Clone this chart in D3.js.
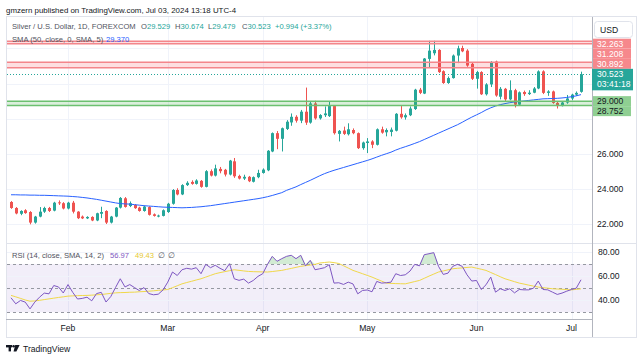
<!DOCTYPE html>
<html>
<head>
<meta charset="utf-8">
<script src="https://cdn.jsdelivr.net/npm/d3@7"></script>
<style>
    body { margin: 0; background: #fff; }
    svg { display: block; font-family: "Liberation Sans", Arial, sans-serif; }
</style>
</head>
<body>
<div class="chart"></div>
<script>
/*-------------------------------data-------------------------------*/

const holidays = ["2024-03-29"];

const opens = [
    23.27, 22.93, 22.60, 22.80, 22.70, 22.10, 22.44, 22.72, 22.93, 22.78,
    23.25, 23.20, 22.90, 23.23, 22.72, 22.44, 22.34, 22.42, 22.22, 22.60,
    22.76, 22.10, 22.44, 22.95, 23.48, 23.04, 23.10, 22.95, 22.76, 22.98,
    22.57, 22.44, 22.48, 22.70, 23.17, 23.95, 23.70, 24.23, 24.41, 24.30,
    24.47, 24.13, 25.02, 24.77, 25.15, 25.10, 24.83, 25.58, 24.75, 24.60,
    24.70, 24.42, 24.68, 24.92, 25.07, 26.14, 27.18, 26.86, 27.42, 27.79,
    28.11, 27.89, 28.40, 27.78, 28.87, 28.02, 28.20, 28.15, 28.72, 27.14,
    27.33, 27.12, 27.36, 27.18, 26.33, 26.62, 26.71, 26.52, 27.40, 27.23,
    27.25, 27.32, 28.28, 28.08, 28.20, 28.55, 29.65, 29.43, 31.40, 31.72,
    31.91, 30.70, 30.03, 30.31, 31.59, 32.02, 31.87, 31.12, 30.27, 30.65,
    29.39, 29.95, 31.25, 29.25, 29.70, 29.10, 29.62, 28.80, 29.52, 29.40,
    29.48, 29.72, 30.69, 29.47, 29.55, 28.90, 28.72, 28.92, 29.15, 29.37,
    29.529
];
const highs = [
    23.32, 22.98, 22.80, 22.86, 22.75, 22.48, 22.98, 23.00, 22.99, 23.28,
    23.36, 23.26, 23.28, 23.33, 22.75, 22.50, 22.46, 22.46, 22.66, 23.00,
    22.80, 22.48, 22.98, 23.55, 23.55, 23.30, 23.15, 23.00, 23.05, 23.02,
    22.62, 22.55, 22.85, 23.22, 24.00, 24.05, 24.28, 24.45, 24.50, 24.56,
    24.52, 25.08, 25.12, 25.39, 25.26, 25.15, 25.66, 25.77, 24.82, 24.82,
    24.75, 24.72, 25.10, 25.18, 26.22, 27.22, 27.30, 27.50, 27.92, 28.30,
    28.20, 28.50, 29.77, 28.96, 29.02, 28.26, 28.70, 28.96, 28.75, 27.36,
    27.55, 27.74, 27.45, 27.22, 26.70, 26.90, 26.78, 27.45, 27.55, 27.45,
    27.50, 28.32, 28.72, 28.30, 28.70, 29.70, 29.75, 31.45, 32.43, 32.43,
    31.95, 30.75, 30.40, 31.65, 32.15, 32.15, 31.95, 31.20, 30.72, 30.70,
    30.02, 31.27, 31.30, 29.80, 29.75, 30.18, 29.70, 29.55, 29.60, 29.62,
    29.80, 30.75, 30.75, 29.62, 29.60, 28.95, 28.95, 29.35, 29.42, 29.55,
    30.674
];
const lows = [
    22.88, 22.57, 22.52, 22.60, 22.00, 22.04, 22.40, 22.65, 22.70, 22.74,
    23.10, 22.85, 22.85, 22.62, 22.30, 22.30, 22.30, 22.18, 22.18, 22.35,
    22.02, 22.05, 22.40, 22.90, 22.95, 22.98, 22.88, 22.72, 22.72, 22.50,
    22.44, 22.40, 22.45, 22.65, 23.12, 23.65, 23.66, 24.18, 24.25, 24.26,
    24.08, 24.10, 24.72, 24.72, 24.90, 24.72, 24.78, 24.64, 24.55, 24.52,
    24.40, 24.38, 24.62, 24.88, 25.02, 26.10, 26.27, 26.14, 27.36, 27.60,
    27.78, 27.75, 27.65, 27.72, 27.95, 27.95, 28.10, 28.10, 27.10, 26.71,
    27.08, 27.05, 27.12, 26.28, 26.24, 26.05, 26.33, 26.48, 27.15, 27.00,
    27.00, 27.28, 28.00, 27.95, 28.15, 28.50, 29.40, 29.40, 30.93, 31.60,
    30.60, 29.98, 29.98, 30.28, 31.16, 31.78, 30.95, 30.20, 29.71, 29.35,
    29.32, 29.80, 29.25, 29.10, 28.95, 29.05, 28.64, 28.75, 29.30, 29.35,
    29.45, 29.68, 29.40, 29.30, 28.85, 28.58, 28.70, 28.85, 29.05, 29.30,
    29.479
];
const closes = [
    22.93, 22.62, 22.76, 22.64, 22.10, 22.44, 22.72, 22.93, 22.76, 23.23,
    23.20, 22.90, 23.23, 22.72, 22.35, 22.34, 22.42, 22.22, 22.63, 22.70,
    22.10, 22.44, 22.95, 23.50, 22.99, 23.20, 22.92, 22.76, 23.01, 22.54,
    22.48, 22.50, 22.80, 23.17, 23.95, 23.70, 24.23, 24.36, 24.30, 24.49,
    24.13, 25.02, 24.77, 25.18, 25.02, 24.83, 25.62, 24.73, 24.60, 24.70,
    24.45, 24.68, 24.92, 25.11, 26.18, 27.18, 26.86, 27.46, 27.83, 28.11,
    27.89, 28.40, 27.78, 28.87, 28.02, 28.21, 28.30, 28.72, 27.18, 27.31,
    27.14, 27.40, 27.18, 26.33, 26.65, 26.71, 26.52, 27.40, 27.21, 27.36,
    27.38, 28.28, 28.08, 28.20, 28.58, 29.65, 29.47, 31.42, 31.87, 31.91,
    30.65, 30.03, 30.31, 31.59, 32.00, 31.83, 31.02, 30.27, 30.65, 29.39,
    29.95, 31.21, 29.32, 29.70, 29.10, 29.62, 28.80, 29.50, 29.40, 29.48,
    29.72, 30.69, 29.47, 29.55, 28.90, 28.72, 28.92, 29.15, 29.37, 29.47,
    30.523
];

const smaValues = [
    23.68, 23.68, 23.67, 23.67, 23.66, 23.66, 23.65, 23.65, 23.64, 23.63,
    23.62, 23.61, 23.60, 23.58, 23.56, 23.53, 23.50, 23.46, 23.42, 23.37,
    23.32, 23.27, 23.22, 23.18, 23.16, 23.15, 23.12, 23.09, 23.06, 23.04,
    23.02, 23.00, 22.98, 22.97, 22.96, 22.95, 22.94, 22.95, 22.96, 22.98,
    23.00, 23.03, 23.06, 23.10, 23.14, 23.18, 23.22, 23.26, 23.30, 23.34,
    23.38, 23.42, 23.46, 23.51, 23.57, 23.64, 23.72, 23.80, 23.93, 24.03,
    24.13, 24.26, 24.38, 24.50, 24.63, 24.76, 24.88, 24.98, 25.07, 25.15,
    25.23, 25.31, 25.39, 25.47, 25.55, 25.63, 25.72, 25.82, 25.92, 26.01,
    26.10, 26.22, 26.32, 26.41, 26.50, 26.60, 26.70, 26.82, 26.94, 27.06,
    27.18, 27.30, 27.42, 27.54, 27.66, 27.80, 27.95, 28.09, 28.22, 28.35,
    28.50, 28.62, 28.72, 28.80, 28.86, 28.91, 28.95, 28.98, 29.01, 29.04,
    29.07, 29.10, 29.13, 29.14, 29.15, 29.16, 29.18, 29.21, 29.25, 29.30,
    29.37
];

const rsiValues = [
    42.0, 37.0, 39.8, 38.4, 32.8, 38.4, 42.5, 45.9, 45.3, 52.2,
    51.0, 46.0, 53.0, 46.5, 41.0, 41.5, 42.5, 39.5, 45.5, 46.5,
    38.5, 43.0, 50.5, 57.8, 51.0, 53.0, 50.5, 48.0, 50.5, 45.5,
    44.5, 45.0, 48.5, 55.0, 63.4, 60.5, 65.3, 66.5, 65.8, 67.0,
    62.0, 69.8, 67.0, 69.0, 66.5, 64.5, 70.3, 57.8, 56.5, 57.5,
    54.2, 56.4, 59.8, 62.0, 69.8, 76.4, 72.3, 74.5, 76.4, 77.3,
    74.5, 77.3, 68.5, 73.1, 65.3, 66.1, 67.0, 69.5, 54.2, 54.5,
    53.1, 55.0, 53.5, 45.3, 48.1, 48.5, 47.0, 55.6, 54.2, 54.5,
    55.0, 62.0, 60.5, 61.1, 64.2, 69.8, 68.5, 77.8, 78.6, 79.5,
    68.1, 61.4, 62.5, 68.1, 69.8, 68.1, 61.1, 55.9, 56.4, 48.9,
    52.8, 59.2, 46.7, 49.5, 48.1, 49.5, 46.1, 48.9, 48.6, 48.6,
    50.0, 55.9, 48.9, 48.6, 46.7, 44.8, 45.9, 47.5, 48.9, 50.0,
    56.97
];
const rsiMaValues = [
    44.0, 42.8, 41.5, 40.2, 39.2, 39.4, 39.9, 40.5, 41.1, 41.7,
    42.3, 42.8, 43.4, 43.6, 43.8, 43.9, 44.0, 44.2, 44.5, 44.75,
    45.2, 45.7, 46.1, 46.3, 46.4, 46.6, 46.7, 47.0, 47.2, 47.5,
    47.8, 48.2, 48.5, 48.9, 50.4, 52.0, 53.6, 54.7, 55.7, 56.8,
    57.8, 59.2, 60.6, 62.0, 62.9, 63.7, 64.5, 65.3, 64.8, 64.3,
    63.9, 63.7, 63.6, 63.5, 63.4, 63.8, 64.3, 64.75, 65.6, 66.4,
    67.3, 68.1, 68.7, 69.2, 69.75, 70.9, 71.3, 71.7, 71.2, 70.5,
    68.6, 66.7, 64.75, 63.4, 62.0, 60.6, 59.2, 57.5, 55.9, 54.2,
    54.0, 53.8, 53.7, 53.6, 54.5, 55.5, 56.4, 58.2, 60.0, 61.7,
    63.4, 64.3, 65.2, 66.1, 66.5, 66.8, 67.2, 67.5, 66.6, 65.7,
    64.75, 63.0, 61.3, 59.5, 57.8, 56.6, 55.4, 54.2, 53.4, 52.5,
    51.7, 50.9, 50.4, 50.0, 49.5, 49.3, 49.1, 48.8, 48.6, 49.0,
    49.43
];

const priceTicks = [22, 24, 26, 28, 30, 32];
const rsiTicks = [40, 60, 80];
const rsiLevels = [70, 50, 30];

const redZones = [[32.263, 32.40], [30.892, 31.208]];
const greenZones = [[28.752, 29.000]];
const redLabels = [32.263, 31.208, 30.892];
const greenLabels = [29.000, 28.752];
const lastPrice = 30.523;
const countdown = "03:41:18";

/*-------------------------------init-------------------------------*/

const size = { width: 643, height: 361 };
const pane = { left: 7, right: 592, top: 17, mainBottom: 243, rsiBottom: 319, axisBottom: 337 };

const colors = {
    up: "#26a69a",
    down: "#ef5350",
    grid: "#f0f3fa",
    border: "#e0e3eb",
    text: "#131722",
    legend: "#50535e",
    sma: "#2962ff",
    rsi: "#7e57c2",
    rsiMa: "#f0d84a"
};

const svg = d3.select(".chart").append("svg")
    .attr("width", size.width)
    .attr("height", size.height);

svg.append("rect").attr("width", size.width).attr("height", size.height).attr("fill", "#fff");

const dayKey = d3.timeFormat("%Y-%m-%d");
const tradingDays = d3.timeDay.range(new Date(2024, 0, 16), new Date(2024, 6, 4))
    .filter(d => d.getDay() !== 0 && d.getDay() !== 6 && !holidays.includes(dayKey(d)));

const bars = tradingDays.map((d, i) => ({
    date: d, o: opens[i], h: highs[i], l: lows[i], c: closes[i],
    sma: smaValues[i], rsi: rsiValues[i], rsiMa: rsiMaValues[i]
}));

const x = d3.scalePoint().domain(tradingDays.map(d => +d)).range([11, 581]);
const xPos = d => x(+d.date);
const yPrice = d3.scaleLinear().domain([20.94, 33.78]).range([pane.mainBottom, pane.top]);
const yRsi = d3.scaleLinear().domain([24.4, 87.5]).range([pane.rsiBottom, pane.mainBottom]);

const monthStarts = tradingDays.filter((d, i) => i > 0 && d.getMonth() !== tradingDays[i - 1].getMonth());

const defs = svg.append("defs");
defs.append("clipPath").attr("id", "mainClip").append("rect")
    .attr("x", pane.left).attr("y", pane.top)
    .attr("width", pane.right - pane.left).attr("height", pane.mainBottom - pane.top);
defs.append("clipPath").attr("id", "rsiClip").append("rect")
    .attr("x", pane.left).attr("y", pane.mainBottom)
    .attr("width", pane.right - pane.left).attr("height", pane.rsiBottom - pane.mainBottom);

/*-------------------------------grid-------------------------------*/

const grid = svg.append("g");
grid.selectAll(".vgrid").data(monthStarts).enter().append("line")
    .attr("x1", d => Math.round(x(+d)) + 0.5).attr("x2", d => Math.round(x(+d)) + 0.5)
    .attr("y1", pane.top).attr("y2", pane.rsiBottom)
    .attr("stroke", colors.grid);
grid.selectAll(".hgrid").data(priceTicks).enter().append("line")
    .attr("x1", pane.left).attr("x2", pane.right)
    .attr("y1", d => Math.round(yPrice(d)) + 0.5).attr("y2", d => Math.round(yPrice(d)) + 0.5)
    .attr("stroke", colors.grid);

/*-------------------------------main pane-------------------------------*/

const main = svg.append("g").attr("clip-path", "url(#mainClip)");

const candle = main.selectAll(".candle").data(bars).enter().append("g");
candle.append("line")
    .attr("x1", d => Math.round(xPos(d)) + 0.5).attr("x2", d => Math.round(xPos(d)) + 0.5)
    .attr("y1", d => yPrice(d.h)).attr("y2", d => yPrice(d.l))
    .attr("stroke", d => d.c >= d.o ? colors.up : colors.down)
    .attr("stroke-width", 1);
candle.append("rect")
    .attr("x", d => Math.round(xPos(d)) - 1)
    .attr("width", 3)
    .attr("y", d => yPrice(Math.max(d.o, d.c)))
    .attr("height", d => Math.max(1, Math.abs(yPrice(d.o) - yPrice(d.c))))
    .attr("fill", d => d.c >= d.o ? colors.up : colors.down);

main.append("path")
    .datum(bars)
    .attr("d", d3.line().x(xPos).y(d => yPrice(d.sma)))
    .attr("fill", "none")
    .attr("stroke", colors.sma)
    .attr("stroke-width", 1);

//zones drawn on top like chart drawings
const drawZone = (zone, stroke, fill) => {
    const g = main.append("g");
    g.append("rect")
        .attr("x", pane.left).attr("width", pane.right - pane.left)
        .attr("y", yPrice(zone[1])).attr("height", yPrice(zone[0]) - yPrice(zone[1]))
        .attr("fill", fill);
    zone.forEach(v => g.append("line")
        .attr("x1", pane.left).attr("x2", pane.right)
        .attr("y1", yPrice(v)).attr("y2", yPrice(v))
        .attr("stroke", stroke).attr("stroke-width", 1.5));
};
redZones.forEach(z => drawZone(z, "#f4868b", "rgba(242,54,69,0.16)"));
greenZones.forEach(z => drawZone(z, "#6cc070", "rgba(76,175,80,0.2)"));

main.append("line")
    .attr("x1", pane.left).attr("x2", pane.right)
    .attr("y1", Math.round(yPrice(lastPrice)) + 0.5).attr("y2", Math.round(yPrice(lastPrice)) + 0.5)
    .attr("stroke", colors.up).attr("stroke-dasharray", "1,2");

/*-------------------------------RSI pane-------------------------------*/

const rsiPane = svg.append("g").attr("clip-path", "url(#rsiClip)");

rsiPane.append("rect")
    .attr("x", pane.left).attr("width", pane.right - pane.left)
    .attr("y", yRsi(70)).attr("height", yRsi(30) - yRsi(70))
    .attr("fill", "rgba(126,87,194,0.1)");

rsiPane.selectAll(".rgrid").data(rsiTicks).enter().append("line")
    .attr("x1", pane.left).attr("x2", pane.right)
    .attr("y1", d => Math.round(yRsi(d)) + 0.5).attr("y2", d => Math.round(yRsi(d)) + 0.5)
    .attr("stroke", colors.grid);

rsiPane.selectAll(".level").data(rsiLevels).enter().append("line")
    .attr("x1", pane.left).attr("x2", pane.right)
    .attr("y1", d => Math.round(yRsi(d)) + 0.5).attr("y2", d => Math.round(yRsi(d)) + 0.5)
    .attr("stroke", "#9598a1").attr("stroke-dasharray", "3,3");

rsiPane.append("path")
    .datum(bars)
    .attr("d", d3.area().x(xPos).y0(yRsi(70)).y1(d => yRsi(Math.max(70, d.rsi))))
    .attr("fill", "rgba(76,175,80,0.25)");

rsiPane.append("path")
    .datum(bars)
    .attr("d", d3.line().x(xPos).y(d => yRsi(d.rsiMa)))
    .attr("fill", "none").attr("stroke", colors.rsiMa).attr("stroke-width", 1);

rsiPane.append("path")
    .datum(bars)
    .attr("d", d3.line().x(xPos).y(d => yRsi(d.rsi)))
    .attr("fill", "none").attr("stroke", colors.rsi).attr("stroke-width", 1);

/*-------------------------------frame-------------------------------*/

svg.append("rect")
    .attr("x", 6.5).attr("y", 16.5).attr("width", 630).attr("height", pane.axisBottom - 16)
    .attr("fill", "none").attr("stroke", colors.border);
svg.append("line").attr("x1", 6).attr("x2", 637)
    .attr("y1", pane.mainBottom + 0.5).attr("y2", pane.mainBottom + 0.5).attr("stroke", colors.border);
svg.append("line").attr("x1", 6).attr("x2", pane.right)
    .attr("y1", pane.rsiBottom + 0.5).attr("y2", pane.rsiBottom + 0.5).attr("stroke", "#b2b5be");
svg.append("line").attr("x1", pane.right + 0.5).attr("x2", pane.right + 0.5)
    .attr("y1", pane.top).attr("y2", pane.axisBottom).attr("stroke", "#b2b5be");

/*-------------------------------price labels layout-------------------------------*/

const axisFont = "8.6px";
const labelH = 10;
const lastY = yPrice(lastPrice);
const lastBox = { top: lastY - 5.5, bottom: lastY + 16 };

const axisLabels = redLabels.map(v => ({ v, kind: "red" })).concat(greenLabels.map(v => ({ v, kind: "green" })));
let limit = lastBox.top;
axisLabels.filter(d => d.v > lastPrice).sort((a, b) => a.v - b.v).forEach(d => {
    let c = yPrice(d.v);
    if (c + labelH / 2 > limit) c = limit - labelH / 2;
    d.cy = c;
    limit = c - labelH / 2;
});
limit = lastBox.bottom;
axisLabels.filter(d => d.v < lastPrice).sort((a, b) => b.v - a.v).forEach(d => {
    let c = yPrice(d.v);
    if (c - labelH / 2 < limit) c = limit + labelH / 2;
    d.cy = c;
    limit = c + labelH / 2;
});

//regular ticks are hidden when a coloured label covers them
const covered = axisLabels.map(d => [d.cy - labelH / 2, d.cy + labelH / 2])
    .concat([[lastBox.top, lastBox.bottom], [21, 38]]);
const visibleTicks = priceTicks.filter(t => {
    const ty = yPrice(t);
    return !covered.some(b => ty + 3 > b[0] && ty - 3 < b[1]);
});

/*-------------------------------axes-------------------------------*/

svg.append("g").selectAll("text").data(visibleTicks).enter().append("text")
    .attr("x", 597).attr("y", d => yPrice(d) + 3)
    .text(d => d3.format(".3f")(d))
    .style("font-size", axisFont).attr("fill", colors.text);

svg.append("g").selectAll("text").data(rsiTicks).enter().append("text")
    .attr("x", 598).attr("y", d => yRsi(d) + 3)
    .text(d => d3.format(".2f")(d))
    .style("font-size", axisFont).attr("fill", colors.text);

svg.append("g").selectAll("text").data(monthStarts).enter().append("text")
    .attr("x", d => x(+d)).attr("y", 331)
    .attr("text-anchor", "middle")
    .text(d => d3.timeFormat("%b")(d))
    .style("font-size", axisFont).attr("fill", colors.text);

const labelG = svg.append("g").selectAll("g").data(axisLabels).enter().append("g");
labelG.append("rect")
    .attr("x", 593).attr("width", 38).attr("y", d => d.cy - labelH / 2).attr("height", labelH)
    .attr("fill", d => d.kind === "red" ? "#f6888c" : "#8fcf92");
labelG.append("text")
    .attr("x", 597).attr("y", d => d.cy + 3)
    .text(d => d3.format(".3f")(d.v))
    .style("font-size", axisFont)
    .attr("fill", d => d.kind === "red" ? "#fff" : colors.text);

svg.append("rect")
    .attr("x", 592).attr("y", lastBox.top).attr("width", 41).attr("height", lastBox.bottom - lastBox.top)
    .attr("fill", colors.up);
svg.append("text").attr("x", 597).attr("y", lastY + 3).text(d3.format(".3f")(lastPrice))
    .style("font-size", axisFont).attr("fill", "#fff");
svg.append("text").attr("x", 597).attr("y", lastY + 13).text(countdown)
    .style("font-size", axisFont).attr("fill", "#fff");

//currency button
svg.append("rect")
    .attr("x", 594.5).attr("y", 21.5).attr("width", 38).attr("height", 16).attr("rx", 3)
    .attr("fill", "#fff").attr("stroke", colors.border);
svg.append("text").attr("x", 600).attr("y", 32.5).text("USD")
    .style("font-size", axisFont).attr("fill", colors.text);

/*-------------------------------legends-------------------------------*/

const legendFont = "7.6px";

svg.append("text").attr("x", 6).attr("y", 13)
    .text("gmzern published on TradingView.com, Jul 03, 2024 13:18 UTC-4")
    .style("font-size", "7.9px").attr("fill", colors.text);

const ohlc = [
    { x: 12, label: "Silver / U.S. Dollar, 1D, FOREXCOM", value: "" },
    { x: 141, label: "O", value: d3.format(".3f")(opens[opens.length - 1]) },
    { x: 175, label: "H", value: d3.format(".3f")(highs[highs.length - 1]) },
    { x: 208, label: "L", value: d3.format(".3f")(lows[lows.length - 1]) },
    { x: 242, label: "C", value: d3.format(".3f")(lastPrice) },
    { x: 275, label: "", value: "+0.994 (+3.37%)" }
];
const ohlcText = svg.append("g").selectAll("text").data(ohlc).enter().append("text")
    .attr("x", d => d.x).attr("y", 28.5)
    .style("font-size", legendFont);
ohlcText.append("tspan").text(d => d.label).attr("fill", colors.legend);
ohlcText.append("tspan").text(d => d.value).attr("fill", colors.up);

const smaLegend = svg.append("text").attr("x", 12).attr("y", 41.5).style("font-size", legendFont);
smaLegend.append("tspan").text("SMA (50, close, 0, SMA, 5)").attr("fill", colors.legend);
smaLegend.append("tspan").attr("x", 106).text(d3.format(".3f")(smaValues[smaValues.length - 1])).attr("fill", colors.sma);

const rsiLegend = svg.append("text").attr("x", 12).attr("y", 257.5).style("font-size", legendFont);
rsiLegend.append("tspan").text("RSI (14, close, SMA, 14, 2)").attr("fill", colors.legend);
rsiLegend.append("tspan").attr("x", 110).text(d3.format(".2f")(rsiValues[rsiValues.length - 1])).attr("fill", colors.rsi);
rsiLegend.append("tspan").attr("x", 135).text(d3.format(".2f")(rsiMaValues[rsiMaValues.length - 1])).attr("fill", "#e6c930");
rsiLegend.append("tspan").attr("x", 158).text("\u2205").attr("fill", colors.legend);
rsiLegend.append("tspan").attr("x", 168).text("\u2205").attr("fill", colors.legend);

/*-------------------------------footer-------------------------------*/

const logo = svg.append("g").attr("fill", colors.text);
logo.append("rect").attr("x", 6).attr("y", 345).attr("width", 6).attr("height", 2.4);
logo.append("rect").attr("x", 8.6).attr("y", 345).attr("width", 2.4).attr("height", 6.4);
logo.append("circle").attr("cx", 13.6).attr("cy", 346.2).attr("r", 1.3);
logo.append("path").attr("d", "M15.2,345 L19.6,345 L16.4,351.4 L13.6,351.4 Z");
svg.append("text").attr("x", 23).attr("y", 351.5).text("TradingView")
    .style("font-size", "8.6px").attr("fill", colors.text);
</script>
</body>
</html>
